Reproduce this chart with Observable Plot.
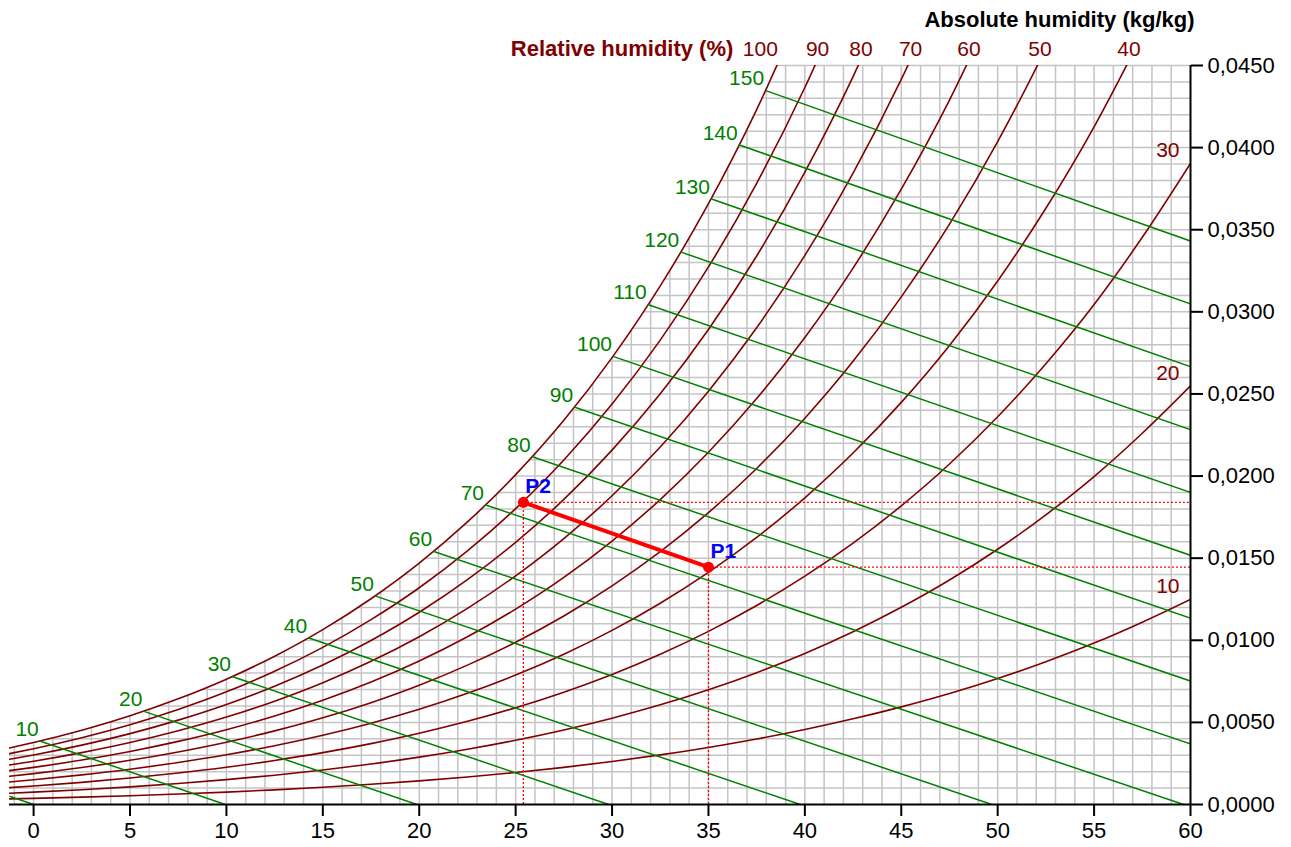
<!DOCTYPE html>
<html>
<head>
<meta charset="utf-8">
<script src="https://cdn.jsdelivr.net/npm/d3@7"></script>
<script src="https://cdn.jsdelivr.net/npm/@observablehq/plot@0.6"></script>
<style>
  html, body { margin: 0; padding: 0; background: white; }
  #chart { width: 1291px; height: 847px; }
</style>
</head>
<body>
<div id="chart"></div>
<script>
// Dry-bulb temperatures (°C) at which the humidity curves are sampled
const temps = [-1.25, 0, 2.5, 5, 7.5, 10, 12.5, 15, 17.5, 20, 22.5, 25, 27.5, 30, 32.5, 35, 37.5, 40, 42.5, 45, 47.5, 50, 52.5, 55, 57.5, 60];

// Absolute humidity (kg/kg) along each relative-humidity curve
const w100 = [0.003444, 0.003775, 0.004524, 0.005403, 0.006435, 0.007632, 0.009030, 0.010650, 0.012530, 0.014699, 0.017206, 0.020086, 0.023395, 0.027210, 0.031577, 0.036585, 0.042317, 0.048893];
const w90 = [0.003098, 0.003396, 0.004069, 0.004859, 0.005785, 0.006860, 0.008115, 0.009569, 0.011255, 0.013198, 0.015443, 0.018019, 0.020977, 0.024382, 0.028276, 0.032733, 0.037829, 0.043661, 0.050318];
const w80 = [0.002752, 0.003017, 0.003614, 0.004315, 0.005137, 0.006091, 0.007203, 0.008491, 0.009984, 0.011704, 0.013689, 0.015966, 0.018576, 0.021579, 0.025008, 0.028927, 0.033400, 0.038510, 0.044328, 0.050979];
const w70 = [0.002407, 0.002638, 0.003160, 0.003772, 0.004490, 0.005323, 0.006294, 0.007417, 0.008718, 0.010217, 0.011945, 0.013925, 0.016194, 0.018800, 0.021773, 0.025165, 0.029030, 0.033437, 0.038445, 0.044154, 0.050627];
const w60 = [0.002062, 0.002260, 0.002707, 0.003231, 0.003845, 0.004557, 0.005387, 0.006347, 0.007458, 0.008737, 0.010211, 0.011898, 0.013829, 0.016045, 0.018570, 0.021446, 0.024718, 0.028442, 0.032665, 0.037467, 0.042896, 0.049081];
const w50 = [0.001717, 0.001882, 0.002254, 0.002690, 0.003201, 0.003793, 0.004483, 0.005280, 0.006203, 0.007264, 0.008486, 0.009883, 0.011482, 0.013314, 0.015398, 0.017770, 0.020463, 0.023522, 0.026984, 0.030912, 0.035341, 0.040370, 0.046054, 0.052455];
const w40 = [0.001373, 0.001505, 0.001802, 0.002150, 0.002558, 0.003031, 0.003581, 0.004217, 0.004952, 0.005797, 0.006770, 0.007882, 0.009152, 0.010605, 0.012258, 0.014135, 0.016263, 0.018677, 0.021401, 0.024486, 0.027955, 0.031882, 0.036305, 0.041268, 0.046920, 0.053163];
const w30 = [0.001029, 0.001128, 0.001350, 0.001611, 0.001917, 0.002270, 0.002682, 0.003157, 0.003707, 0.004338, 0.005064, 0.005893, 0.006839, 0.007920, 0.009148, 0.010541, 0.012118, 0.013903, 0.015914, 0.018186, 0.020733, 0.023609, 0.026837, 0.030446, 0.034539, 0.039038];
const w20 = [0.000686, 0.000751, 0.000900, 0.001073, 0.001276, 0.001512, 0.001785, 0.002101, 0.002466, 0.002885, 0.003367, 0.003916, 0.004542, 0.005258, 0.006069, 0.006988, 0.008027, 0.009200, 0.010520, 0.012007, 0.013670, 0.015542, 0.017638, 0.019972, 0.022607, 0.025492];
const w10 = [0.000343, 0.000375, 0.000449, 0.000536, 0.000638, 0.000755, 0.000891, 0.001049, 0.001231, 0.001439, 0.001679, 0.001952, 0.002263, 0.002618, 0.003020, 0.003475, 0.003988, 0.004566, 0.005216, 0.005946, 0.006761, 0.007675, 0.008696, 0.009828, 0.011102, 0.012490];

const rhLevels = [100, 90, 80, 70, 60, 50, 40, 30, 20, 10];
const rhSeries = [w100, w90, w80, w70, w60, w50, w40, w30, w20, w10];
const rhTopLabels = [90, 80, 70, 60, 50, 40];
const rhRightLabels = [30, 20, 10];

// Enthalpy lines (kJ/kg): start on the saturation curve, end on an axis
const enthalpy = [0, 10, 20, 30, 40, 50, 60, 70, 80, 90, 100, 110, 120, 130, 140, 150];
const enthT1 = [-1.25, 0.32, 5.69, 10.29, 14.24, 17.70, 20.72, 23.41, 25.83, 28.03, 30.05, 31.85, 33.54, 35.13, 36.57, 37.94];
const enthW1 = [0.000503, 0.003870, 0.005686, 0.007796, 0.010158, 0.012705, 0.015420, 0.018255, 0.021189, 0.024206, 0.027289, 0.030449, 0.033653, 0.036884, 0.040177, 0.043486];
const enthT2 = [0, 9.94, 19.88, 29.82, 39.76, 49.70, 59.64, 60, 60, 60, 60, 60, 60, 60, 60, 60];
const enthW2 = [0, 0, 0, 0, 0, 0, 0, 0.003690, 0.007517, 0.011345, 0.015173, 0.019000, 0.022828, 0.026656, 0.030483, 0.034311];

// Process points
const pointNames = ["P1", "P2"];
const pointT = [35, 25.4];
const pointW = [0.01445, 0.0184];

// Axis ticks
const xTicks = [0, 5, 10, 15, 20, 25, 30, 35, 40, 45, 50, 55, 60];
const yTicks = [0, 0.005, 0.010, 0.015, 0.020, 0.025, 0.030, 0.035, 0.040, 0.045];
const gridXValues = d3.range(-1, 60, 1);
const gridYValues = d3.range(1, 46, 1).map(d => d / 1000);

// ---- build tables ----
const rhTable = [];
rhLevels.forEach((rh, k) => {
  rhSeries[k].forEach((w, i) => rhTable.push({rh, T: temps[i], w}));
});
const satTable = w100.map((w, i) => ({T: temps[i], w}));

function crossTop(series, top) {
  for (let i = 0; i < series.length - 1; i++) {
    if (series[i] < top && series[i + 1] >= top) {
      const f = (top - series[i]) / (series[i + 1] - series[i]);
      return temps[i] + f * (temps[i + 1] - temps[i]);
    }
  }
  return temps[series.length - 1];
}
const yTop = 0.045;
const topLab = rhTopLabels.map(rh => ({rh, T: crossTop(rhSeries[rhLevels.indexOf(rh)], yTop), w: yTop}));
const top100 = [{rh: 100, T: crossTop(w100, yTop), w: yTop}];
const rightLab = rhRightLabels.map(rh => {
  const s = rhSeries[rhLevels.indexOf(rh)];
  return {rh, T: temps[s.length - 1], w: s[s.length - 1]};
});
const enth = enthalpy.map((h, i) => ({h, x1: enthT1[i], y1: enthW1[i], x2: enthT2[i], y2: enthW2[i]}));
const points = pointNames.map((n, i) => ({name: n, T: pointT[i], w: pointW[i]}));

const DARKRED = "#800000";
const GREEN = "#008000";
const FONT = "Liberation Sans, Arial, sans-serif";

const chart = Plot.plot({
  width: 1291,
  height: 847,
  marginLeft: 9,
  marginRight: 101,
  marginTop: 65,
  marginBottom: 43,
  x: {domain: [-1.25, 60]},
  y: {domain: [0, 0.045]},
  style: {fontFamily: FONT, fontSize: "22px", color: "black", background: "white", overflow: "visible"},
  marks: [
    Plot.gridX(gridXValues, {stroke: "#c4c4c4", strokeOpacity: 1, strokeWidth: 1.5}),
    Plot.gridY(gridYValues, {stroke: "#c4c4c4", strokeOpacity: 1, strokeWidth: 1.5}),
    // white out the region above saturation (slightly beyond the frame top so the top grid line is hidden there)
    Plot.areaY(satTable, {x: "T", y1: "w", y2: 0.0455, fill: "white", curve: "monotone-x"}),
    Plot.line(rhTable, {x: "T", y: "w", z: "rh", stroke: DARKRED, strokeWidth: 1.6, curve: "monotone-x", clip: true}),
    Plot.link(enth, {x1: "x1", y1: "y1", x2: "x2", y2: "y2", stroke: GREEN, strokeWidth: 1.5, clip: true}),
    Plot.ruleX(points, {x: "T", y1: 0, y2: "w", stroke: "red", strokeWidth: 1.3, strokeDasharray: "2,2"}),
    Plot.ruleY(points, {y: "w", x1: "T", x2: 60, stroke: "red", strokeWidth: 1.3, strokeDasharray: "2,2"}),
    Plot.ruleY([0], {stroke: "black", strokeWidth: 2}),
    Plot.ruleX([60], {stroke: "black", strokeWidth: 2}),
    Plot.axisX({ticks: xTicks, tickSize: 12, tickPadding: 6, strokeWidth: 2, fontSize: 22, tickFormat: d => String(d), label: null}),
    Plot.axisY({anchor: "right", ticks: yTicks, tickSize: 12, tickPadding: 5, strokeWidth: 2, fontSize: 22,
      tickFormat: d => d.toFixed(4).replace(".", ","), label: null}),
    Plot.line(points, {x: "T", y: "w", stroke: "red", strokeWidth: 4}),
    Plot.dot(points, {x: "T", y: "w", r: 5.5, fill: "red"}),
    Plot.text(points, {x: "T", y: "w", text: "name", fill: "#0000ff", fontWeight: "bold", fontSize: 21,
      textAnchor: "start", lineAnchor: "bottom", dx: 2, dy: -9}),
    // enthalpy labels
    Plot.text(enth.filter(d => d.h > 0), {x: "x1", y: "y1", text: d => String(d.h), fill: GREEN, fontSize: 21,
      textAnchor: "end", lineAnchor: "bottom", dx: -1, dy: -5}),
    // relative humidity labels
    Plot.text(topLab, {x: "T", y: "w", text: d => String(d.rh), fill: DARKRED, fontSize: 21,
      textAnchor: "middle", lineAnchor: "bottom", dx: 3, dy: -10}),
    Plot.text(top100, {x: "T", y: "w", text: d => String(d.rh), fill: DARKRED, fontSize: 21,
      textAnchor: "middle", lineAnchor: "bottom", dx: -16, dy: -10}),
    Plot.text(top100, {x: "T", y: "w", text: () => "Relative humidity (%)", fill: DARKRED, fontSize: 22, fontWeight: "bold",
      textAnchor: "end", lineAnchor: "bottom", dx: -43, dy: -10}),
    Plot.text(rightLab, {x: "T", y: "w", text: d => String(d.rh), fill: DARKRED, fontSize: 21,
      textAnchor: "end", lineAnchor: "bottom", dx: -11, dy: -6}),
    Plot.text([{T: 60, w: yTop}], {x: "T", y: "w", text: () => "Absolute humidity (kg/kg)", fill: "black", fontSize: 22, fontWeight: "bold",
      textAnchor: "end", lineAnchor: "bottom", dx: 4, dy: -39})
  ]
});
document.getElementById("chart").appendChild(chart);
</script>
</body>
</html>
